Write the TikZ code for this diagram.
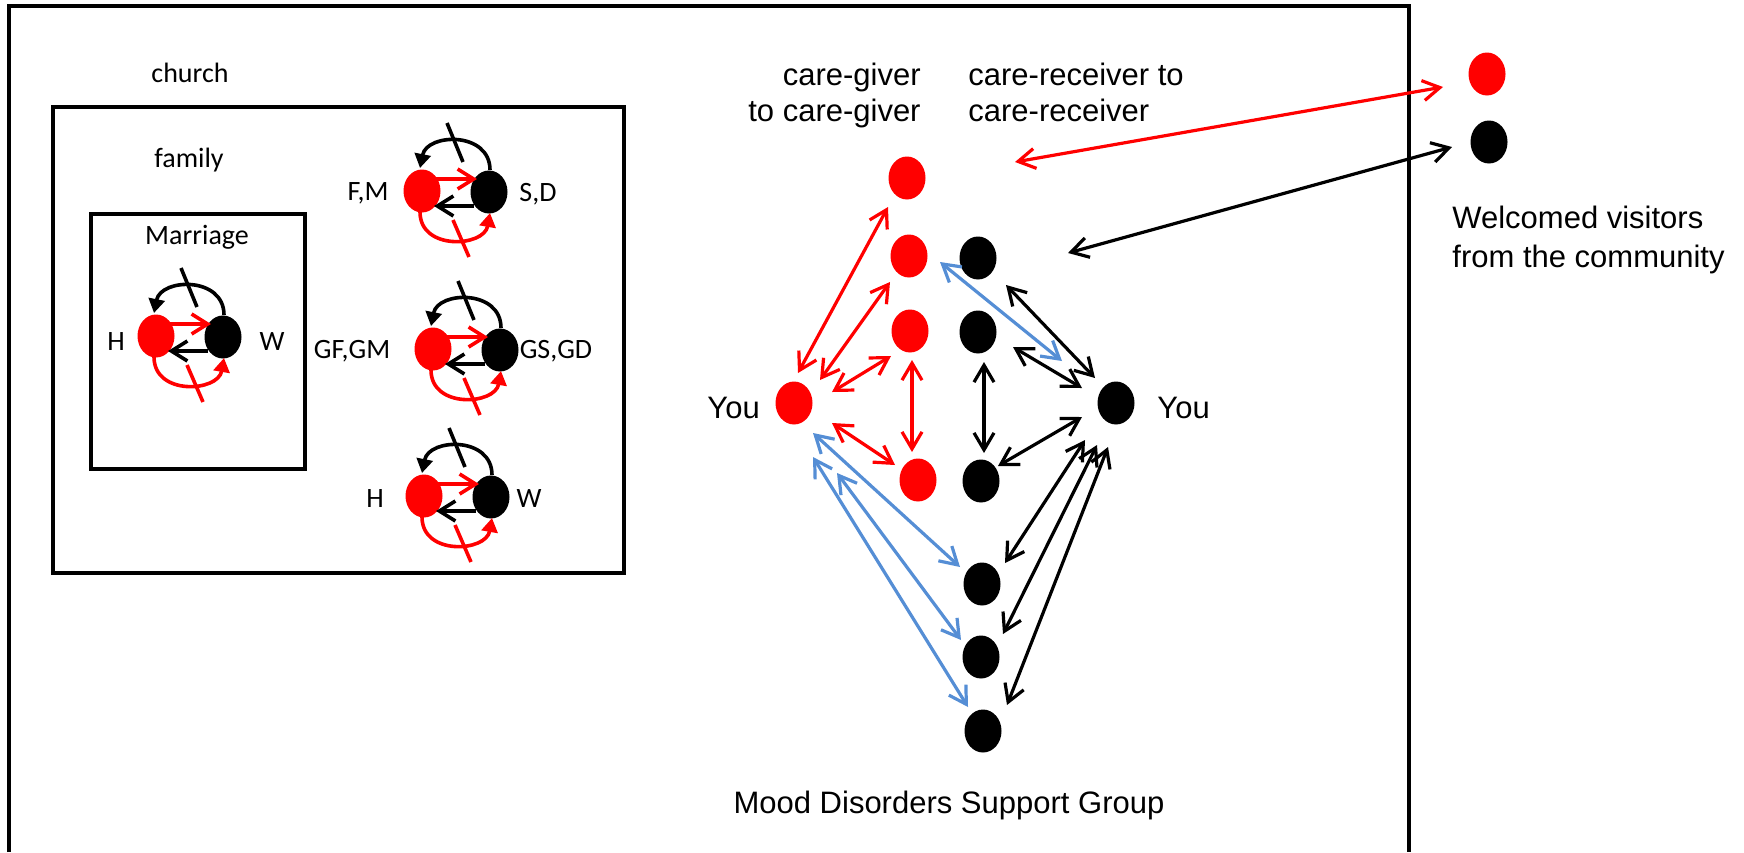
\documentclass[tikz,border=0pt]{standalone}
\usepackage{fontspec}
\setmainfont{Liberation Sans}
\newfontfamily\calfont{Carlito}
\usetikzlibrary{arrows.meta,calc,shapes.geometric}
\definecolor{myred}{RGB}{255,0,0}
\definecolor{myblue}{RGB}{85,142,213}
\tikzset{
  dot/.style={ellipse, minimum width=18.5pt, minimum height=21.5pt, inner sep=0pt},
  rdot/.style={dot, fill=myred},
  bdot/.style={dot, fill=black},
  barb/.tip={Straight Barb[length=8.5pt,width=10pt]},
  net/.style={line width=1.6pt, barb-barb},
  motif/.style={line width=1.8pt},
  motifbarb/.style={motif, -{Straight Barb[length=8pt,width=10pt]}},
  motiftri/.style={motif, -{Triangle[length=7pt,width=8pt]}},
  lbl/.style={font=\calfont\fontsize{14}{17}\selectfont, inner sep=0pt, anchor=base},
  txt/.style={font=\fontsize{15.5}{18}\selectfont, inner sep=0pt},
  box/.style={line width=2pt},
}
\newcommand\dyad[3]{%
  \node[rdot] (#1r) at (#2,#3) {};
  \node[bdot] (#1b) at ($(#1r)+(67,1)$) {};
  \draw[motiftri] ($(#1b)+(1,-22)$) .. controls ($(#1b)+(1,-61)$) and ($(#1r)+(5,-58)$) .. ($(#1r)+(-2,-23)$);
  \draw[motif] ($(#1r)+(25,-68)$) -- ($(#1r)+(41,-29)$);
  \draw[motifbarb, myred] ($(#1r)+(14,-12)$) -- ($(#1b)+(-12,-13)$);
  \draw[motifbarb] ($(#1b)+(-15,14)$) -- ($(#1r)+(12,15)$);
  \draw[motiftri, myred] ($(#1r)+(-2,21)$) .. controls ($(#1r)+(-2,60)$) and ($(#1b)+(-5,55)$) .. ($(#1b)+(1,21)$);
  \draw[motif, myred] ($(#1r)+(31,29)$) -- ($(#1r)+(47,66)$);
}
\begin{document}
\begin{tikzpicture}[x=0.5pt, y=-0.5pt]
\useasboundingbox (0,0) rectangle (1744,852);
% boxes
\draw[box] (9,852) -- (9,6) -- (1409,6) -- (1409,852);
\draw[line width=1.8pt] (53,107) rectangle (624,573);
\draw[box] (91,214) rectangle (305,469);
% left labels
\node[lbl] (church) at (190,82) {church};
\node[lbl] (family) at (189,167) {family};
\node[lbl] (marriage) at (197,244) {Marriage};
% dyads
\dyad{m}{156}{336}
\dyad{fm}{422}{191}
\dyad{gf}{433}{349}
\dyad{hw}{424}{496}
\node[lbl] (mH) at (116,350) {H};
\node[lbl] (mW) at (272,350) {W};
\node[lbl] (lFM) at (368,200) {F,M};
\node[lbl] (lSD) at (538,201) {S,D};
\node[lbl] (lGF) at (352,358) {GF,GM};
\node[lbl] (lGS) at (556,358) {GS,GD};
\node[lbl] (hH) at (375,507) {H};
\node[lbl] (hW) at (529,507) {W};
% network nodes
\node[rdot] (yr) at (794,403) {};
\node[rdot] (r1) at (907,178) {};
\node[rdot] (r2) at (909,256) {};
\node[rdot] (r3) at (910,331) {};
\node[rdot] (r4) at (918,480) {};
\node[bdot] (b1) at (978,258) {};
\node[bdot] (b2) at (978,332) {};
\node[bdot] (b3) at (981,481) {};
\node[bdot] (yb) at (1116,403) {};
\node[bdot] (b4) at (982,584) {};
\node[bdot] (b5) at (981,657) {};
\node[bdot] (b6) at (983,731) {};
\node[rdot] (vr) at (1487,74) {};
\node[bdot] (vb) at (1489,142) {};
\coordinate (cgin) at (1015,162);
\coordinate (crin) at (1068,253);
% texts
\node[txt, anchor=base east] (cg1) at (921,85) {care-giver};
\node[txt, anchor=base east] (cg2) at (921,121) {to care-giver};
\node[txt, anchor=base west] (cr1) at (968,85) {care-receiver to};
\node[txt, anchor=base west] (cr2) at (968,121) {care-receiver};
\node[txt, anchor=base west] (wv1) at (1452,228) {Welcomed visitors};
\node[txt, anchor=base west] (wv2) at (1452,267) {from the community};
\node[txt, anchor=base west] (youl) at (707,418) {You};
\node[txt, anchor=base west] (your) at (1157,418) {You};
\node[txt, anchor=base] (mood) at (949,813) {Mood Disorders Support Group};
% red connectors
\begin{scope}[net, myred]
\draw ($(yr)+(4,-30)$) -- ($(r1)+(-19,29)$);
\draw ($(yr)+(26,-23)$) -- ($(r2)+(-19,26)$);
\draw ($(yr)+(38,-11)$) -- ($(r3)+(-19,25)$);
\draw ($(r3)+(2,29)$) -- ($(r4)+(-6,-28)$);
\draw ($(yr)+(38,20)$) -- ($(r4)+(-23,-15)$);
\draw (cgin) -- ($(vr)+(-44,13)$);
\end{scope}
% blue connectors
\begin{scope}[net, myblue]
\draw ($(r2)+(31,6)$) -- ($(yb)+(-54,-42)$);
\draw ($(yr)+(19,30)$) -- ($(b4)+(-22,-17)$);
\draw ($(yr)+(43,70)$) -- ($(b5)+(-20,-17)$);
\draw ($(yr)+(19,54)$) -- ($(b6)+(-15,-24)$);
\end{scope}
% black connectors
\begin{scope}[net]
\draw ($(b1)+(28,27)$) -- ($(yb)+(-21,-25)$);
\draw ($(b2)+(35,15)$) -- ($(yb)+(-34,-15)$);
\draw ($(b2)+(6,30)$) -- ($(b3)+(3,-28)$);
\draw ($(b3)+(17,-15)$) -- ($(yb)+(-34,14)$);
\draw ($(yb)+(-31,37)$) -- ($(b4)+(23,-21)$);
\draw ($(yb)+(-19,42)$) -- ($(b5)+(22,-23)$);
\draw ($(yb)+(-8,44)$) -- ($(b6)+(24,-26)$);
\draw (crin) -- ($(vb)+(-37,5)$);
\end{scope}
\end{tikzpicture}
\end{document}
